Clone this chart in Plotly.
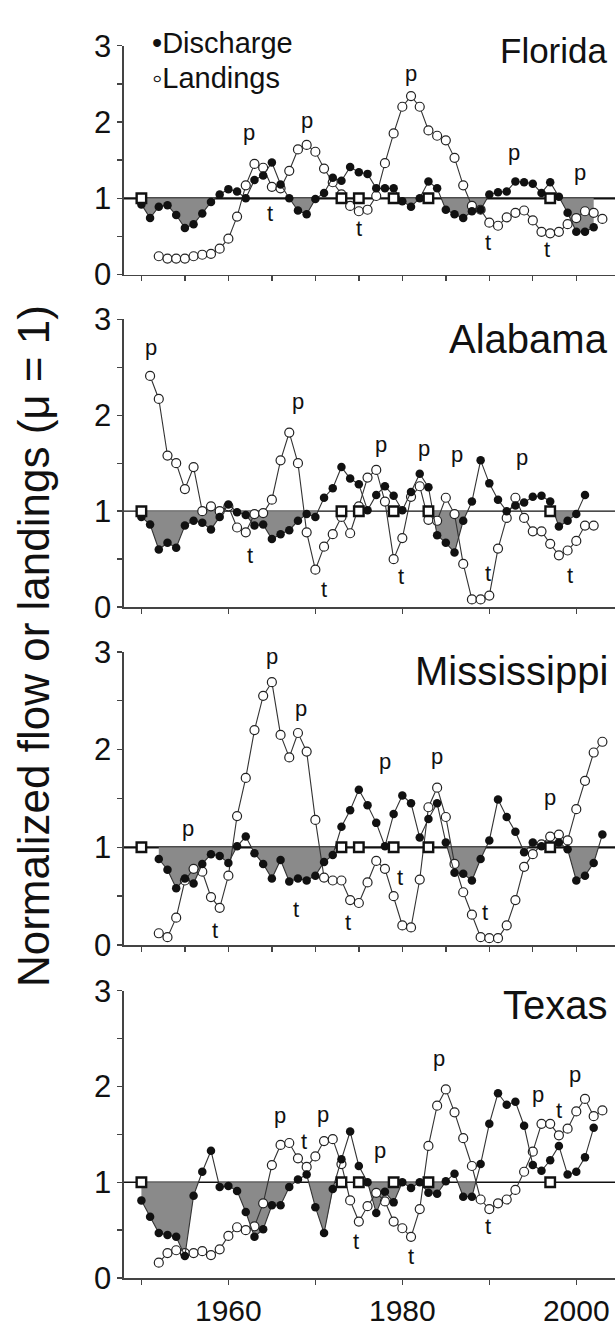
import plotly.graph_objects as go

# ---------------- data ----------------
square_years = [1950, 1973, 1975, 1979, 1983, 1997]

fl_dis_start = 1950
fl_discharge = [0.92, 0.74, 0.89, 0.91, 0.78, 0.61, 0.66, 0.80, 0.95, 1.05,
                1.12, 1.09, 1.00, 1.24, 1.30, 1.47, 1.18, 1.00, 0.84, 0.79,
                0.99, 1.07, 1.27, 1.23, 1.41, 1.34, 1.32, 1.13, 1.13, 1.13,
                0.96, 0.89, 1.00, 1.22, 1.13, 0.85, 0.79, 0.74, 0.83, 0.85,
                1.05, 1.08, 1.09, 1.22, 1.21, 1.19, 1.07, 1.21, 1.02, 0.81,
                0.56, 0.56, 0.62]
fl_land_start = 1952
fl_landings = [0.24, 0.21, 0.21, 0.21, 0.24, 0.26, 0.27, 0.34, 0.47, 0.76,
               1.17, 1.45, 1.40, 1.15, 1.13, 1.36, 1.64, 1.70, 1.61, 1.39,
               1.21, 1.05, 0.90, 0.83, 0.85, 1.03, 1.46, 1.85, 2.20, 2.34,
               2.20, 1.89, 1.82, 1.76, 1.53, 1.17, 0.90, 0.85, 0.68, 0.64,
               0.75, 0.81, 0.84, 0.71, 0.56, 0.54, 0.56, 0.66, 0.74, 0.83,
               0.81, 0.73]
fl_lab_x = [1962.4, 1969.0, 1981.0, 1992.8, 2000.4, 1964.8, 1975.0, 1989.9, 1996.6]
fl_lab_y = [1.86, 2.02, 2.64, 1.60, 1.34, 0.80, 0.61, 0.42, 0.33]
fl_lab_t = ["p", "p", "p", "p", "p", "t", "t", "t", "t"]

al_dis_start = 1950
al_discharge = [0.94, 0.86, 0.60, 0.67, 0.62, 0.85, 0.90, 0.88, 0.81, 0.94,
                1.07, 0.99, 0.96, 0.85, 0.86, 0.71, 0.76, 0.80, 0.90, 0.97,
                0.94, 1.14, 1.24, 1.46, 1.34, 1.28, 1.01, 1.17, 1.26, 1.16,
                1.01, 1.20, 1.39, 1.25, 0.75, 0.67, 0.57, 0.90, 1.10, 1.53,
                1.29, 1.12, 1.00, 1.06, 1.09, 1.15, 1.16, 1.10, 0.84, 0.90,
                0.97, 1.17]
al_land_start = 1951
al_landings = [2.41, 2.17, 1.58, 1.50, 1.23, 1.46, 1.00, 1.05, 1.00, 1.05,
               0.83, 0.78, 0.97, 0.98, 1.12, 1.53, 1.82, 1.50, 0.78, 0.39,
               0.63, 0.76, 0.94, 0.77, 1.05, 1.35, 1.43, 1.10, 0.50, 0.72,
               1.15, 1.26, 0.91, 0.90, 1.14, 0.97, 0.45, 0.08, 0.08, 0.12,
               0.61, 0.93, 1.14, 0.93, 0.79, 0.79, 0.66, 0.54, 0.59, 0.69,
               0.85, 0.85]
al_lab_x = [1951.1, 1968.0, 1977.5, 1982.5, 1986.3, 1993.7, 1962.5, 1971.0, 1979.8, 1989.8, 1999.3]
al_lab_y = [2.71, 2.14, 1.70, 1.65, 1.59, 1.56, 0.54, 0.18, 0.32, 0.35, 0.33]
al_lab_t = ["p", "p", "p", "p", "p", "p", "t", "t", "t", "t", "t"]

ms_dis_start = 1952
ms_discharge = [0.88, 0.77, 0.58, 0.68, 0.63, 0.83, 0.93, 0.91, 0.84, 1.01,
                1.11, 0.94, 0.83, 0.68, 0.87, 0.65, 0.68, 0.66, 0.71, 0.85,
                0.92, 1.21, 1.38, 1.59, 1.43, 1.25, 1.01, 1.34, 1.53, 1.45,
                1.10, 1.29, 1.45, 1.05, 0.74, 0.73, 0.66, 0.88, 1.07, 1.49,
                1.31, 1.16, 0.95, 1.05, 1.01, 1.02, 1.05, 0.98, 0.66, 0.71,
                0.84, 1.13]
ms_land_start = 1952
ms_landings = [0.12, 0.08, 0.28, 0.66, 0.78, 0.75, 0.49, 0.38, 0.71, 1.32,
               1.71, 2.20, 2.55, 2.69, 2.15, 1.92, 2.17, 1.98, 1.28, 0.69,
               0.66, 0.66, 0.46, 0.43, 0.64, 0.86, 0.78, 0.50, 0.20, 0.18,
               0.67, 1.41, 1.61, 1.31, 0.83, 0.54, 0.31, 0.08, 0.07, 0.07,
               0.20, 0.46, 0.80, 0.93, 1.03, 1.11, 1.13, 1.07, 1.39, 1.68,
               1.97, 2.08]
ms_lab_x = [1955.4, 1965.0, 1968.3, 1978.0, 1984.0, 1997.0, 1958.5, 1967.8, 1973.8, 1979.7, 1989.5]
ms_lab_y = [1.19, 2.95, 2.42, 1.88, 1.93, 1.51, 0.15, 0.36, 0.23, 0.69, 0.33]
ms_lab_t = ["p", "p", "p", "p", "p", "p", "t", "t", "t", "t", "t"]

tx_dis_start = 1950
tx_discharge = [0.81, 0.64, 0.47, 0.45, 0.43, 0.23, 0.86, 1.11, 1.33, 0.95,
                0.96, 0.91, 0.69, 0.43, 0.51, 0.76, 0.76, 0.95, 1.03, 1.08,
                0.74, 0.47, 0.93, 1.24, 1.53, 1.17, 1.00, 0.68, 0.90, 0.79,
                1.00, 0.94, 1.00, 0.89, 0.88, 1.01, 1.09, 0.85, 0.85, 1.19,
                1.61, 1.93, 1.81, 1.84, 1.59, 1.18, 1.12, 1.23, 1.38, 1.08,
                1.11, 1.26, 1.57]
tx_land_start = 1952
tx_landings = [0.16, 0.26, 0.29, 0.26, 0.26, 0.28, 0.24, 0.30, 0.44, 0.53,
               0.50, 0.54, 0.78, 1.18, 1.39, 1.41, 1.25, 1.16, 1.27, 1.43,
               1.45, 1.19, 0.81, 0.59, 0.75, 0.89, 0.80, 0.59, 0.52, 0.43,
               0.72, 1.38, 1.80, 1.97, 1.73, 1.46, 1.17, 0.82, 0.72, 0.78,
               0.82, 0.92, 1.11, 1.32, 1.61, 1.61, 1.49, 1.56, 1.74, 1.87,
               1.69, 1.75]
tx_lab_x = [1965.9, 1970.9, 1977.4, 1984.2, 1995.6, 1999.8, 1968.7, 1974.7, 1981.0, 1989.9, 1998.0]
tx_lab_y = [1.70, 1.71, 1.33, 2.29, 1.92, 2.13, 1.43, 0.38, 0.23, 0.54, 1.75]
tx_lab_t = ["p", "p", "p", "p", "p", "p", "t", "t", "t", "t", "t"]

x_tick_vals = [1950, 1960, 1970, 1980, 1990, 2000]
x_tick_text = ["", "1960", "", "1980", "", "2000"]
y_tick_vals = [0, 0.5, 1, 1.5, 2, 2.5, 3]
y_tick_text = ["0", "", "1", "", "2", "", "3"]

# ---------------- layout helpers ----------------
W, H = 615, 1334
FONT = "Liberation Sans, Arial, Helvetica, sans-serif"
X_RANGE = [1948.0, 2004.45]


def fy(px):
    return 1 - px / H


def fx(px):
    return px / W


def below_polys(xs, ys, ref=1.0):
    """Closed polygons between the series and ref where series < ref."""
    outx, outy = [], []
    seg = []

    def cross(i):
        x0, y0, x1, y1 = xs[i - 1], ys[i - 1], xs[i], ys[i]
        return x0 + (ref - y0) / (y1 - y0) * (x1 - x0)

    for i in range(len(xs)):
        if ys[i] < ref:
            if not seg:
                if i > 0 and ys[i - 1] >= ref:
                    seg.append((cross(i), ref))
                else:
                    seg.append((xs[i], ref))
            seg.append((xs[i], ys[i]))
        else:
            if seg:
                seg.append((cross(i), ref))
                outx += [p[0] for p in seg] + [None]
                outy += [p[1] for p in seg] + [None]
                seg = []
    if seg:
        seg.append((xs[-1], ref))
        outx += [p[0] for p in seg] + [None]
        outy += [p[1] for p in seg] + [None]
    return outx, outy


panels = [
    dict(name="Florida", ds=fl_dis_start, dis=fl_discharge, ls=fl_land_start, land=fl_landings,
         y0=264.5, y3=29.5, dt=5, refw=2.2, nsize=35, ny=34,
         lx=fl_lab_x, ly=fl_lab_y, lt=fl_lab_t),
    dict(name="Alabama", ds=al_dis_start, dis=al_discharge, ls=al_land_start, land=al_landings,
         y0=606, y3=310.5, dt=10, refw=1.3, nsize=40, ny=331,
         lx=al_lab_x, ly=al_lab_y, lt=al_lab_t),
    dict(name="Mississippi", ds=ms_dis_start, dis=ms_discharge, ls=ms_land_start, land=ms_landings,
         y0=953, y3=652, dt=5, refw=2.2, nsize=40, ny=672,
         lx=ms_lab_x, ly=ms_lab_y, lt=ms_lab_t),
    dict(name="Texas", ds=tx_dis_start, dis=tx_discharge, ls=tx_land_start, land=tx_landings,
         y0=1295, y3=1000, dt=10, refw=1.3, nsize=40, ny=1015,
         lx=tx_lab_x, ly=tx_lab_y, lt=tx_lab_t),
]

fig = go.Figure()
annotations = []
shapes = []
layout_axes = {}

for k, p in enumerate(panels):
    n = k + 1
    xa = "x" if n == 1 else f"x{n}"
    ya = "y" if n == 1 else f"y{n}"
    dyears = [p["ds"] + i for i in range(len(p["dis"]))]
    lyears = [p["ls"] + i for i in range(len(p["land"]))]

    # gray fill below mean
    px_, py_ = below_polys(dyears, p["dis"])
    fig.add_trace(go.Scatter(x=px_, y=py_, xaxis=xa, yaxis=ya, mode="lines",
                             fill="toself", fillcolor="#8a8a8a",
                             line=dict(width=0, color="rgba(0,0,0,0)"),
                             hoverinfo="skip", showlegend=False))
    # landings
    fig.add_trace(go.Scatter(x=lyears, y=p["land"], xaxis=xa, yaxis=ya, mode="lines+markers",
                             line=dict(color="#333333", width=1.1),
                             marker=dict(symbol="circle", size=9, color="white",
                                         line=dict(color="#222222", width=1.2)),
                             cliponaxis=False, showlegend=False))
    # discharge
    fig.add_trace(go.Scatter(x=dyears, y=p["dis"], xaxis=xa, yaxis=ya, mode="lines+markers",
                             line=dict(color="#333333", width=1.1),
                             marker=dict(symbol="circle", size=8.5, color="#111111",
                                         line=dict(width=0)),
                             cliponaxis=False, showlegend=False))
    # squares on the mean line
    fig.add_trace(go.Scatter(x=square_years, y=[1] * len(square_years), xaxis=xa, yaxis=ya,
                             mode="markers",
                             marker=dict(symbol="square", size=9.5, color="white",
                                         line=dict(color="#111111", width=2.4)),
                             cliponaxis=False, showlegend=False))

    shapes.append(dict(type="line", xref=f"{xa} domain", yref=ya, x0=0, x1=1, y0=1, y1=1,
                       line=dict(color="#111111", width=p["refw"]), layer="below"))

    dom_y = [fy(p["y0"]), fy(p["y3"])]
    last = (n == 4)
    layout_axes["xaxis" if n == 1 else f"xaxis{n}"] = dict(
        domain=[fx(124), 1.0], range=X_RANGE, anchor=ya,
        showline=True, linecolor="#444444", linewidth=1.6,
        ticks="outside", ticklen=5, tickwidth=1.4, tickcolor="#444444",
        tickmode="linear", tick0=1950, dtick=p["dt"],
        showgrid=False, zeroline=False, showticklabels=False,
    )
    if last:
        layout_axes["xaxis4"].update(tickmode="array", tickvals=x_tick_vals, ticktext=x_tick_text,
                                     showticklabels=True,
                                     tickfont=dict(family=FONT, size=30, color="#111111"))
    layout_axes["yaxis" if n == 1 else f"yaxis{n}"] = dict(
        domain=dom_y, range=[0, 3], anchor=xa,
        showline=True, linecolor="#444444", linewidth=1.6,
        ticks="outside", ticklen=5, tickwidth=1.4, tickcolor="#444444",
        tickmode="array", tickvals=y_tick_vals, ticktext=y_tick_text,
        tickfont=dict(family=FONT, size=31, color="#111111"),
        showgrid=False, zeroline=False,
    )

    # state label
    annotations.append(dict(text=p["name"], xref="paper", yref="paper",
                            x=fx(610), y=fy(p["ny"]), xanchor="right", yanchor="middle",
                            showarrow=False, font=dict(family=FONT, size=p["nsize"], color="#111111")))
    # p / t labels
    for lx, ly, lt in zip(p["lx"], p["ly"], p["lt"]):
        annotations.append(dict(text=lt, xref=xa, yref=ya, x=lx, y=ly,
                                xanchor="center", yanchor="middle", showarrow=False,
                                font=dict(family=FONT, size=22, color="#111111")))

# legend (top of Florida panel)
annotations.append(dict(text="•Discharge", xref="paper", yref="paper", x=fx(150), y=fy(27),
                        xanchor="left", yanchor="middle", showarrow=False,
                        font=dict(family=FONT, size=29, color="#111111")))
annotations.append(dict(text="◦Landings", xref="paper", yref="paper", x=fx(150), y=fy(63),
                        xanchor="left", yanchor="middle", showarrow=False,
                        font=dict(family=FONT, size=29, color="#111111")))
# y-axis title
annotations.append(dict(text="Normalized flow or landings (μ = 1)", xref="paper", yref="paper",
                        x=fx(33), y=fy(646), xanchor="center", yanchor="middle", textangle=-90,
                        showarrow=False, font=dict(family=FONT, size=44, color="#111111")))

fig.update_layout(width=W, height=H, margin=dict(l=0, r=0, t=0, b=0),
                  paper_bgcolor="white", plot_bgcolor="white",
                  showlegend=False, annotations=annotations, shapes=shapes,
                  **layout_axes)

fig.write_html("out.html",
               config={"displayModeBar": False, "staticPlot": True},
               post_script="document.body.style.margin='0';document.body.style.padding='0';"
                           "document.documentElement.style.overflow='hidden';"
                           "document.body.style.overflow='hidden';")
